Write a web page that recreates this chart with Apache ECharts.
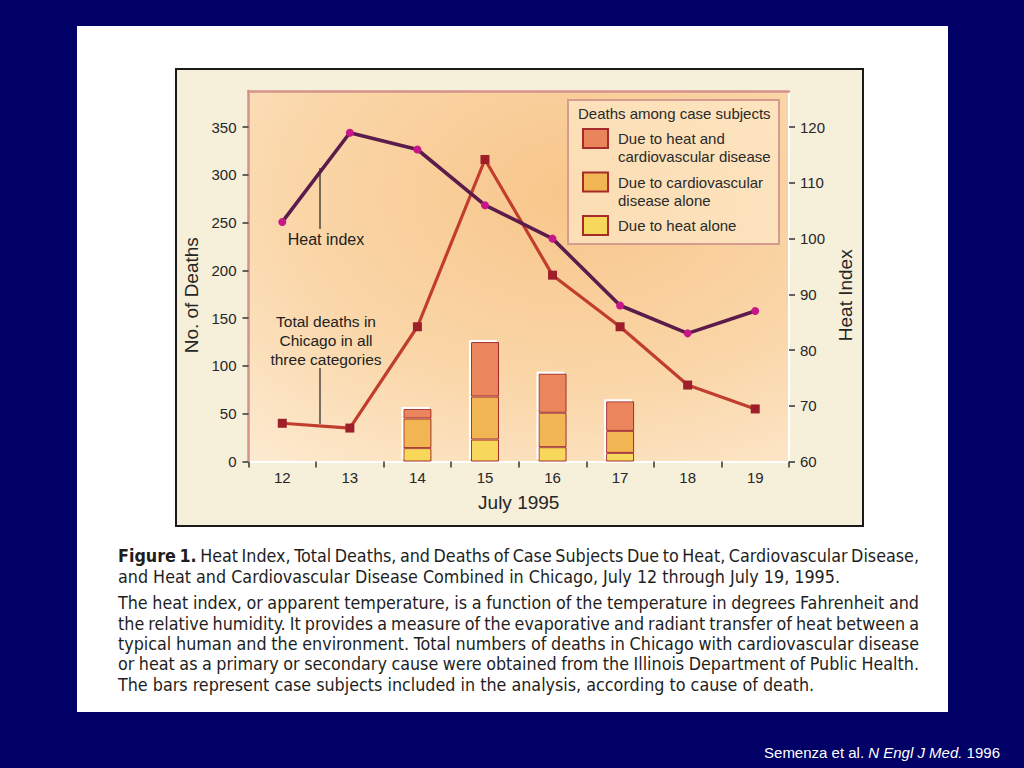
<!DOCTYPE html>
<html>
<head>
<meta charset="utf-8">
<script src="https://cdn.jsdelivr.net/npm/echarts@6/dist/echarts.min.js"></script>
<style>
html,body{margin:0;padding:0;background:#000066;}
#c{width:1024px;height:768px;}
</style>
</head>
<body>
<div id="c"></div>
<script>
// ---------- data ----------
const days = ['12', '13', '14', '15', '16', '17', '18', '19'];
const totalDeaths = [40, 35, 141, 316, 195, 141, 80, 55];
const heatIndex = [103, 119, 116, 106, 100, 88, 83, 87];
const heatAlone = [null, null, 14, 23, 15, 9, null, null];
const cardioAlone = [null, null, 31, 45, 36, 23, null, null];
const heatAndCardio = [null, null, 10, 57, 41, 31, null, null];
const deathTicks = [0, 50, 100, 150, 200, 250, 300, 350];
const heatTicks = [60, 70, 80, 90, 100, 110, 120];

const nameHC = 'Due to heat and\ncardiovascular disease';
const nameC = 'Due to cardiovascular\ndisease alone';
const nameH = 'Due to heat alone';

const captionLines = [
  'Figure 1. Heat Index, Total Deaths, and Deaths of Case Subjects Due to Heat, Cardiovascular Disease,',
  'and Heat and Cardiovascular Disease Combined in Chicago, July 12 through July 19, 1995.',
  'The heat index, or apparent temperature, is a function of the temperature in degrees Fahrenheit and',
  'the relative humidity. It provides a measure of the evaporative and radiant transfer of heat between a',
  'typical human and the environment. Total numbers of deaths in Chicago with cardiovascular disease',
  'or heat as a primary or secondary cause were obtained from the Illinois Department of Public Health.',
  'The bars represent case subjects included in the analysis, according to cause of death.'
];
const captionJustify = [true, false, true, true, true, true, false];

// ---------- styling ----------
const F = "'Liberation Sans', Arial, Helvetica, sans-serif";
const FN = "'Liberation Sans Narrow', 'DejaVu Sans Condensed', 'Liberation Sans', Arial, sans-serif";

const mctx = document.createElement('canvas').getContext('2d');
function measure(t, weight, size, fam) {
  mctx.font = weight + ' ' + size + 'px ' + fam;
  return mctx.measureText(t).width;
}

function buildCaption() {
  const out = [];
  const ys = [556, 577, 603, 624, 644, 664, 685];
  const L = 118, R = 919;
  let fs = 17;
  const w2 = measure(captionLines[1], 'normal', fs, FN);
  fs = Math.max(13, Math.min(20, fs * 722 / w2));
  captionLines.forEach((line, i) => {
    const words = line.split(' ');
    const weights = words.map((w, j) => (i === 0 && j < 2) ? 'bold' : 'normal');
    const widths = words.map((w, j) => measure(w, weights[j], fs, FN));
    const sum = widths.reduce((a, b) => a + b, 0);
    const gap = captionJustify[i] ? (R - L - sum) / (words.length - 1) : measure(' ', 'normal', fs, FN);
    let x = L;
    words.forEach((w, j) => {
      out.push({
        type: 'text', x: x, y: ys[i], z: 5, silent: true,
        style: { text: w, fontSize: fs, fontFamily: FN, fontWeight: weights[j], fill: '#1e1e1e', verticalAlign: 'middle' }
      });
      x += widths[j] + gap;
    });
  });
  return out;
}

const barBorder = '#a52c2b';
function barStyle(color) {
  return {
    color: color, borderColor: barBorder, borderWidth: 1,
    shadowColor: '#ffffff', shadowOffsetX: -2, shadowOffsetY: -2, shadowBlur: 0
  };
}

const chart = echarts.init(document.getElementById('c'), null, { renderer: 'svg' });

const option = {
  animation: false,
  backgroundColor: '#000066',
  grid: {
    left: 248.5, right: 235, top: 91, bottom: 306.5,
    show: true, borderWidth: 0,
    backgroundColor: new echarts.graphic.RadialGradient(0.6, 0.28, 1.15, [
      { offset: 0, color: '#f8c68b' },
      { offset: 0.45, color: '#fad6a8' },
      { offset: 1, color: '#fef5e6' }
    ])
  },
  legend: {
    orient: 'vertical', left: 582, top: 111.5, padding: 0, itemGap: -10.5,
    itemWidth: 25, itemHeight: 19, icon: 'rect', selectedMode: false,
    // a blank line above (and below for single lines) keeps the first text line level with its swatch
    formatter: name => (name.indexOf('\n') >= 0 ? '\n' + name : '\n' + name + '\n'),
    textStyle: { fontSize: 15, lineHeight: 18, color: '#2a2a2a', fontFamily: F, padding: [0, 0, 0, 5] },
    data: [nameHC, nameC, nameH]
  },
  xAxis: [
    {
      type: 'category', data: days, position: 'bottom', boundaryGap: true,
      axisLine: { show: true, lineStyle: { color: '#ffffff', width: 2 } },
      axisTick: { show: true, length: 6, lineStyle: { color: '#333', width: 1.5 } },
      axisLabel: { fontSize: 15, color: '#262626', fontFamily: F, margin: 8 },
      name: 'July 1995', nameLocation: 'middle', nameGap: 31,
      nameTextStyle: { fontSize: 19, color: '#262626', fontFamily: F }
    },
    {
      type: 'category', data: days, position: 'top', boundaryGap: true,
      axisLine: { show: true, lineStyle: { color: '#d4938a', width: 2.5 } },
      axisTick: { show: false }, axisLabel: { show: false }
    }
  ],
  yAxis: [
    {
      type: 'value', position: 'left', min: 0, max: 387.7, interval: 50,
      splitLine: { show: false },
      axisLine: { show: true, lineStyle: { color: '#d4938a', width: 2.5 } },
      axisTick: { show: true, length: 6, customValues: deathTicks, lineStyle: { color: '#333', width: 1.5 } },
      axisLabel: {
        fontSize: 15, color: '#262626', fontFamily: F, margin: 12, customValues: deathTicks,
        formatter: v => (deathTicks.indexOf(v) >= 0 ? String(v) : '')
      },
      name: 'No. of Deaths', nameLocation: 'middle', nameGap: 47, nameRotate: 90,
      nameTextStyle: { fontSize: 19, color: '#262626', fontFamily: F, padding: [0, 38, 0, 0] }
    },
    {
      type: 'value', position: 'right', min: 60, max: 126.5, interval: 10,
      splitLine: { show: false },
      axisLine: { show: true, lineStyle: { color: '#ffffff', width: 2 } },
      axisTick: { show: true, length: 6, customValues: heatTicks, lineStyle: { color: '#333', width: 1.5 } },
      axisLabel: {
        fontSize: 15, color: '#262626', fontFamily: F, margin: 11, customValues: heatTicks,
        formatter: v => (heatTicks.indexOf(v) >= 0 ? String(v) : '')
      },
      name: 'Heat Index', nameLocation: 'middle', nameGap: 44, nameRotate: 90,
      nameTextStyle: { fontSize: 19, color: '#262626', fontFamily: F, padding: [0, 38, 0, 0] }
    }
  ],
  series: [
    { name: nameH, type: 'bar', stack: 'cases', barWidth: 28, xAxisIndex: 0, yAxisIndex: 0,
      data: heatAlone, itemStyle: barStyle('#f8d85a') },
    { name: nameC, type: 'bar', stack: 'cases', barWidth: 28, xAxisIndex: 0, yAxisIndex: 0,
      data: cardioAlone, itemStyle: barStyle('#f2b553') },
    { name: nameHC, type: 'bar', stack: 'cases', barWidth: 28, xAxisIndex: 0, yAxisIndex: 0,
      data: heatAndCardio, itemStyle: barStyle('#ea855b') },
    { name: 'Total deaths', type: 'line', xAxisIndex: 0, yAxisIndex: 0, data: totalDeaths,
      symbol: 'rect', symbolSize: 9, showSymbol: true,
      itemStyle: { color: '#9e1f2a' }, lineStyle: { color: '#c13d2d', width: 3.2 } },
    { name: 'Heat index', type: 'line', xAxisIndex: 0, yAxisIndex: 1, data: heatIndex,
      symbol: 'circle', symbolSize: 8, showSymbol: true,
      itemStyle: { color: '#c8168a' }, lineStyle: { color: '#5c1c4b', width: 3.6 } }
  ],
  graphic: [
    { type: 'rect', z: -20, silent: true, shape: { x: 77, y: 26, width: 871, height: 686 }, style: { fill: '#ffffff' } },
    { type: 'rect', z: -19, silent: true, shape: { x: 176, y: 69, width: 687, height: 457 },
      style: { fill: '#f6efda', stroke: '#1a1a1a', lineWidth: 2 } },
    { type: 'rect', z: 1, silent: true, shape: { x: 568, y: 100, width: 211, height: 144 },
      style: { fill: 'rgba(255,240,214,0.55)', stroke: '#d59b8f', lineWidth: 2 } },
    { type: 'text', z: 3, silent: true, x: 578, y: 113,
      style: { text: 'Deaths among case subjects', fontSize: 15, fontFamily: F, fill: '#2a2a2a', verticalAlign: 'middle' } },
    { type: 'line', z: 3, silent: true, shape: { x1: 320, y1: 168, x2: 320, y2: 229 }, style: { stroke: '#222', lineWidth: 1.2 } },
    { type: 'text', z: 3, silent: true, x: 326, y: 239,
      style: { text: 'Heat index', fontSize: 16, fontFamily: F, fill: '#222', align: 'center', verticalAlign: 'middle' } },
    { type: 'line', z: 3, silent: true, shape: { x1: 320, y1: 368, x2: 320, y2: 424 }, style: { stroke: '#222', lineWidth: 1.2 } },
    { type: 'text', z: 3, silent: true, x: 326, y: 340,
      style: { text: 'Total deaths in\nChicago in all\nthree categories', fontSize: 15.5, lineHeight: 19, fontFamily: F,
               fill: '#222', align: 'center', verticalAlign: 'middle' } },
    { type: 'text', z: 5, silent: true, x: 1000, y: 752,
      style: { text: 'Semenza et al. {i|N Engl J Med.} 1996', fontSize: 15, fontFamily: F, fill: '#ffffff',
               align: 'right', verticalAlign: 'middle',
               rich: { i: { fontStyle: 'italic', fontSize: 15, fontFamily: F, fill: '#ffffff' } } } }
  ].concat(buildCaption())
};

chart.setOption(option);
</script>
</body>
</html>
